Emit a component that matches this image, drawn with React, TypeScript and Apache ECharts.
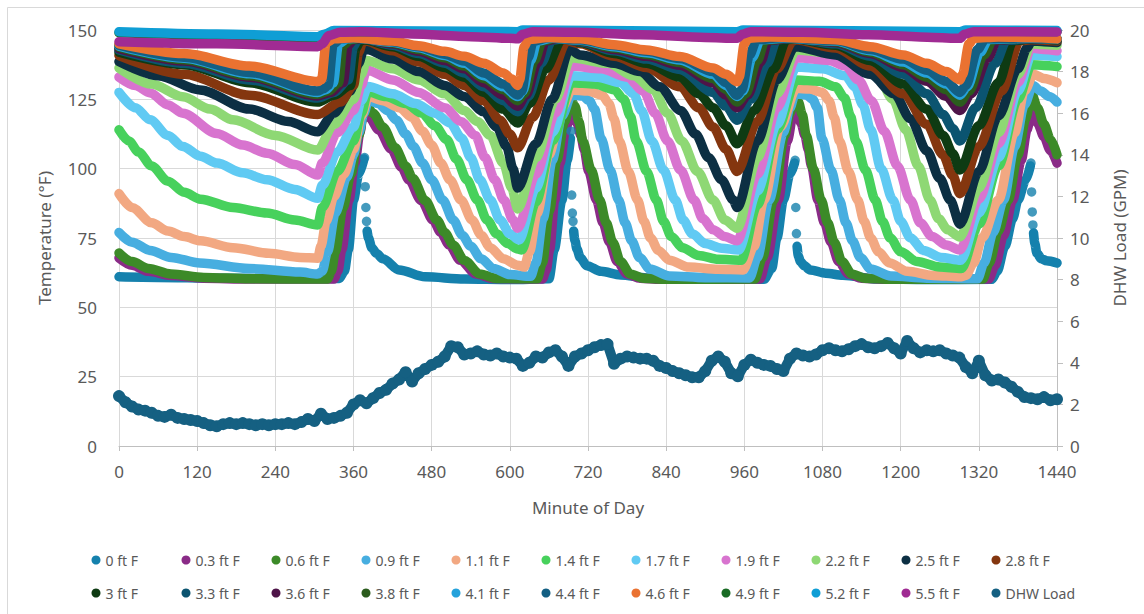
import React, { useEffect, useRef } from "react";
import * as echarts from "echarts";

// ---------- tick labels / axis ----------
const xTicks = [0, 120, 240, 360, 480, 600, 720, 840, 960, 1080, 1200, 1320, 1440];

// ---------- sensor temperatures [minute, °F] ----------
const s00 = [[0,61],[60,60.8],[150,60.5],[250,60.4],[338,60.4],[346,63],[352,70.7],[360,88.7],[368,98],[376,103.5],[378.5,null],[381,77.5],[383,75],[388,71.5],[395,69.5],[405,67.5],[430,63.5],[470,61],[530,60.2],[600,60],[660,60.3],[668,70.7],[680,88.7],[688,103],[693,111],[695.5,null],[698,77.5],[700,74],[703,71],[708,68],[718,65],[740,63],[770,61.7],[810,60.6],[880,60.1],[990,60.1],[1002,64],[1010,75],[1020,88.7],[1030,98],[1037,102],[1039.5,null],[1041,72],[1043,68.5],[1046,66.5],[1052,65],[1061,63.5],[1085,62.3],[1111,61.6],[1164,60.2],[1240,60],[1340,60.1],[1348,63],[1360,72],[1372,82],[1380,88.7],[1392,96],[1399,101],[1402,null],[1404,76.8],[1406,73],[1409,69.6],[1416,67.5],[1424,66.8],[1440,66]];
const s00Dots = [[377,104],[378,93.5],[379,86],[380,81],[694,113.5],[695,90.5],[696,84],[697,81],[1038,103],[1039,86],[1040,76.6],[1400,102],[1401,91.6],[1402,84.4],[1403,79.7]];
const s03 = [[0,67.8],[20,65.2],[45,63],[80,61.5],[130,60.5],[200,60.2],[330,60.2],[336,63],[342,70.7],[353,88.7],[362,102],[370,113],[375,120.5],[384,118.5],[399,114],[418,107],[434,100.5],[445,96],[464,88.5],[482,81.5],[494,77],[507,72.5],[524,67],[548,62],[574,60.4],[650,60.2],[656,63.5],[661,70.7],[669,88.7],[677,102],[685,113],[693,120.5],[697,119.5],[703,116.5],[709,112],[714,107],[721,99],[733,88.7],[743,80.5],[753,73.5],[765,66.5],[780,62],[800,60.5],[830,60.1],[984,60.2],[995,68],[1012,88.7],[1026,110],[1036,121],[1041,120],[1047,116.5],[1053,112],[1058,107],[1063,101],[1073,88.7],[1083,80.5],[1093,73.5],[1105,66.5],[1120,62],[1140,60.5],[1180,60.1],[1335,60.2],[1345,65],[1358,76],[1372,88.7],[1385,103],[1394,114],[1401,121],[1410,116.5],[1420,111.5],[1430,106.5],[1440,102]];
const s06 = [[0,69.6],[20,66.5],[45,64],[80,62],[130,60.8],[200,60.3],[320,60.2],[326,63],[332,70],[344,86],[356,98],[368,112],[378,123.7],[390,120],[405,115],[424,107.5],[440,101],[451,96.5],[470,88.5],[488,81.5],[500,77],[513,72.5],[530,67],[554,62],[580,60.4],[642,60.3],[650,66],[661,85],[672,103],[684,117],[694,124.8],[700,122.5],[706,117],[712,110],[725,99.5],[738,88.7],[748,80.5],[758,73.5],[770,66.5],[785,62],[805,60.5],[840,60.1],[976,60.2],[988,68],[1005,88.7],[1022,112],[1030,120],[1037,126],[1043,124],[1049,119.5],[1055,112],[1066,100],[1078,88.7],[1088,80.5],[1098,73.5],[1110,66.5],[1125,62],[1145,60.5],[1185,60.1],[1326,60.2],[1336,66],[1350,77.5],[1365,88.7],[1380,105],[1392,118],[1401,127],[1410,122],[1420,116],[1430,110.5],[1440,105]];
const s09 = [[0,77],[20,73.5],[48,70.5],[80,68],[124,66],[200,64],[278,62.7],[305,62],[312,63],[320,70],[332,84],[350,97],[360,105],[368,113],[376,120],[383,124.8],[398,123.5],[412,121],[426,117.5],[440,112.5],[452,108],[466,102],[480,96],[497,88.7],[513,81.5],[527,76],[540,72],[556,67.5],[575,64],[600,61.8],[632,61.2],[640,66],[651,82],[665,103],[680,119],[695,126.6],[712,126.2],[722,124.5],[730,121.5],[740,111],[754,99.5],[767,88.7],[777,80.5],[787,74],[799,68],[815,63.8],[845,61.3],[900,60.7],[968,60.6],[980,68],[998,88.7],[1020,113],[1030,121.9],[1038,127],[1055,126.6],[1065,125],[1072,122],[1079,111],[1093,99.5],[1106,88.7],[1116,80.5],[1126,74],[1138,68],[1154,63.8],[1185,61.3],[1240,60.5],[1318,60.3],[1328,66],[1342,77],[1358,88.7],[1375,108],[1390,123],[1403,130],[1415,128],[1428,126],[1440,124]];
const s11 = [[0,91],[20,86],[50,80.5],[75,77.5],[100,75.5],[125,74],[175,71.5],[230,69.5],[278,68],[305,67.7],[310,72],[318,81],[330,90],[345,98],[360,107],[372,119],[383,126],[405,124.5],[430,122],[450,118.5],[466,113.5],[480,108.5],[494,102],[508,96],[525,88.7],[542,81.5],[556,76],[570,71.5],[590,67.5],[612,65.2],[622,64.5],[630,70],[642,84],[660,105],[680,122],[695,128.4],[720,128],[742,126.5],[752,123.5],[760,118],[768,110],[782,99],[796,88.7],[806,81],[816,75],[828,70.5],[845,67],[875,64.5],[920,63.7],[958,63.5],[975,72],[990,88.7],[1015,115],[1040,129],[1060,128.7],[1080,127.5],[1090,124.5],[1098,118.5],[1106,110],[1120,99],[1134,88.7],[1144,81],[1154,75],[1166,70],[1183,66],[1210,63],[1250,61.5],[1291,61],[1300,61.5],[1312,66],[1325,75],[1350,88.7],[1375,113],[1390,128],[1404,134],[1420,132.5],[1440,131]];
const s14 = [[0,114],[15,110],[30,106],[50,101],[75,95.5],[100,91.5],[125,89],[175,86],[227,84],[270,81.5],[305,79.7],[312,86],[335,99],[360,110],[372,120],[382,127.7],[410,126],[440,123.5],[465,120],[485,115.5],[503,110.5],[518,103.5],[534,96],[550,88.7],[565,81.5],[580,76.5],[597,73],[612,71],[618,70.7],[640,88],[665,110],[695,131],[730,130.5],[760,128.5],[775,125],[785,119],[794,110],[810,99],[825,88.7],[836,81],[848,75.5],[865,71.5],[890,68.7],[920,67.3],[955,67],[980,87],[1010,114],[1040,132],[1075,131.5],[1100,129.5],[1114,125.5],[1123,119],[1131,110],[1146,99.5],[1161,88.7],[1172,81],[1184,75],[1200,70],[1225,66.5],[1260,64.5],[1293,64],[1320,80],[1350,101],[1380,125],[1401,137.5],[1420,137.2],[1440,136.8]];
const s17 = [[0,127.5],[25,122],[48,117.6],[75,112],[98,108],[125,104.5],[150,102],[190,98.5],[227,96],[270,92.5],[305,89.3],[312,94],[335,106],[360,115],[372,124.5],[382,129.6],[420,127],[455,123.5],[485,120],[508,116.5],[526,111],[540,104],[554,96],[570,88.7],[585,81.5],[600,76.5],[614,74.3],[640,93],[665,113],[695,133.5],[735,133],[770,131],[790,127],[802,121],[818,110],[836,99.5],[854,88.7],[866,81.5],[880,76.5],[900,73],[925,71.3],[951,70.7],[980,92],[1010,116],[1040,136.7],[1080,136],[1115,133.5],[1130,129.5],[1142,123],[1154,114],[1170,100],[1188,88.7],[1200,81],[1215,75],[1235,70.5],[1262,68],[1292,67],[1320,84],[1350,104],[1380,128],[1401,141],[1420,140.7],[1440,140.4]];
const s19 = [[0,133],[25,130],[48,127.3],[75,123],[98,120],[150,112.7],[190,108.5],[227,105.6],[270,101.5],[305,97.7],[312,102],[335,113],[360,121],[372,130],[380,135.6],[420,132],[460,127.5],[500,122],[525,117],[547,112],[562,104],[577,96],[591,88.7],[605,81.5],[612,78.5],[640,98],[670,120],[695,137],[740,136],[780,133],[805,128],[823,120],[842,110],[862,99.5],[883,88.7],[896,82],[912,78],[930,75.5],[949,74],[980,98],[1010,122],[1040,140],[1090,139],[1115,137],[1135,132],[1155,124.5],[1175,113.5],[1195,101],[1215,88.7],[1230,80.5],[1248,75.5],[1270,72.5],[1291,70.7],[1320,89],[1350,109],[1380,131],[1401,143.5],[1420,143],[1440,142.5]];
const s22 = [[0,136.3],[50,130.5],[98,125.9],[140,121.5],[175,117.6],[240,112],[305,106.7],[330,116],[360,125],[372,134],[380,139],[420,136],[460,132],[500,127],[530,121],[550,117],[570,112],[590,102],[603,93],[612,85.5],[640,104],[670,125],[694,140],[750,138],[790,133.5],[820,128.5],[842,120],[864,110],[888,99],[912,88.7],[930,81.5],[949,78.5],[980,104],[1010,127],[1040,142.8],[1100,141.5],[1140,138.5],[1165,133.5],[1188,125],[1208,114],[1227,101],[1245,88.7],[1258,82],[1272,78],[1291,75.4],[1320,93],[1350,113],[1380,134],[1401,145],[1420,144.8],[1440,144.5]];
const s25 = [[0,138.6],[60,133.5],[124,128.4],[200,121.5],[260,117],[305,113.3],[330,120],[355,128],[368,138],[375,142.5],[380,143],[420,139.5],[460,135],[500,130],[530,126],[560,120.5],[580,115],[595,108],[605,100],[612,93],[640,109],[665,125],[692,143],[708,141],[760,138],[800,135],[830,129.5],[862,121],[885,112.5],[905,104],[925,96],[943,88.7],[949,86],[980,110],[1010,132],[1038,144],[1100,141],[1153,134],[1190,127],[1215,118],[1240,106.5],[1260,96.5],[1276,88.7],[1291,80],[1320,99],[1350,119],[1380,136],[1394,143.5],[1401,146],[1420,145.8],[1440,145.5]];
const s28 = [[0,140.8],[100,134],[200,126.5],[305,119.5],[340,124],[360,130],[368,142],[374,145.5],[378,146],[420,142.5],[460,138.5],[500,134],[530,130],[560,124.5],[585,117.5],[600,112.5],[612,107.5],[635,118.5],[660,132],[688,146],[708,145],[760,140.5],[810,136.5],[861,129.5],[890,122],[912,115],[932,107],[949,99],[980,117],[1010,136],[1035,146],[1038,146.5],[1100,143.5],[1153,137],[1204,127],[1240,116],[1265,105],[1280,97.5],[1291,91],[1320,108],[1355,128],[1383,146],[1400,146.5],[1440,146]];
const s30 = [[0,142],[100,137.5],[200,131],[305,124],[330,126.5],[355,130],[364,143.5],[370,146],[376,146.5],[420,144],[460,140.5],[500,136.5],[530,133],[560,127.5],[590,121.5],[612,116.5],[630,123.5],[655,136],[680,146.5],[690,147],[708,145.5],[760,141.5],[810,138],[861,133],[890,127],[912,122],[932,115.5],[949,109],[975,121],[1005,136],[1025,146.5],[1036,146.8],[1100,144.5],[1153,139],[1204,130.5],[1240,121.5],[1265,112],[1280,105.5],[1291,99.5],[1320,115.5],[1350,131],[1373,146.2],[1400,146.8],[1440,146.4]];
const s33 = [[0,142.8],[100,138],[200,132],[305,125.5],[330,127.5],[352,132],[360,144],[366,146.3],[374,146.8],[420,144.5],[460,141.5],[500,138],[530,134.5],[560,129.5],[590,124.5],[612,120.5],[628,126],[648,138],[665,146.3],[680,146.8],[708,145.8],[760,142.5],[810,139.5],[861,135.8],[912,127.5],[932,122.5],[949,117.5],[970,125],[995,138],[1010,146.5],[1034,147],[1100,145],[1153,140.5],[1204,134],[1240,127],[1265,119.5],[1280,114.5],[1291,110],[1315,122],[1345,138],[1363,146.3],[1400,146.8],[1440,146.5]];
const s36 = [[0,143.3],[100,138.8],[200,133],[305,126.2],[325,127.5],[344,131],[352,144.5],[360,146.5],[372,147],[420,145],[460,142.3],[500,139],[530,136],[560,131],[590,126.5],[612,122.5],[625,126.5],[642,138],[655,146],[675,147],[708,146],[760,143],[810,140.5],[861,137.3],[912,131],[932,126.5],[949,122],[965,126.5],[985,138.5],[997,146.2],[1030,147],[1100,145.5],[1153,141.5],[1204,136.5],[1240,131.5],[1270,126],[1291,121],[1308,127],[1334,140],[1348,146.4],[1400,147],[1440,146.7]];
const s38 = [[0,143.8],[100,139.3],[200,133.5],[305,126.8],[322,128],[337,131],[344,144.5],[355,146.5],[370,147],[420,145.3],[460,143],[500,140],[530,137],[560,132.5],[590,128.5],[612,124.5],[622,127],[638,139],[650,146],[670,147],[708,146.1],[760,143.5],[810,141.2],[861,138.3],[912,132.5],[932,128.5],[949,124],[962,127],[980,139],[992,146.3],[1025,147],[1100,145.8],[1153,142],[1204,137.5],[1240,133],[1270,128.5],[1291,124],[1305,128],[1328,141],[1342,146.5],[1400,147],[1440,146.7]];
const s41 = [[0,144.2],[100,139.8],[200,134.2],[305,127.5],[318,128.5],[329,131],[337,145],[350,146.8],[368,147],[420,145.6],[460,143.6],[500,140.8],[530,138],[560,133.5],[590,129.5],[612,126],[620,128],[632,139],[642,146],[665,147],[708,146.3],[760,144],[810,141.8],[861,139.2],[912,134],[932,130],[949,126],[958,128],[972,140],[985,146.5],[1020,147],[1100,146],[1153,142.5],[1204,138.5],[1240,134.5],[1270,130.5],[1291,126.5],[1302,129.5],[1322,142],[1335,146.6],[1400,147],[1440,146.8]];
const s44 = [[0,144.5],[100,140.2],[200,134.7],[305,128],[313,128.7],[321,130],[329,145],[340,146.8],[366,147.2],[420,145.8],[460,144],[500,141.3],[530,138.8],[560,134.5],[590,130.5],[612,126.6],[618,128],[628,140],[636,146],[660,147.2],[708,146.5],[760,144.4],[810,142.3],[861,139.7],[912,135],[932,131],[949,126.5],[956,128.5],[968,141],[979,146.5],[1015,147.2],[1100,146.2],[1153,143],[1204,139.5],[1240,135.5],[1270,131.5],[1291,127.5],[1300,130],[1318,143],[1330,146.8],[1400,147.2],[1440,146.9]];
const s46 = [[0,145],[100,141.5],[200,137],[305,131.4],[311,132.2],[318,145.5],[330,146.8],[360,147.2],[420,146],[460,144.3],[500,142.3],[530,140.5],[560,138],[590,134.5],[603,132.3],[612,130],[615,132],[622,144],[628,146.5],[660,147.3],[708,146.8],[760,144.7],[810,142.8],[861,140.4],[912,136.3],[932,134],[949,131.3],[952,133],[960,145],[966,147],[1000,147.5],[1100,146.5],[1153,144],[1204,141],[1240,138],[1270,135],[1291,132],[1295,134],[1305,145],[1312,147],[1350,147.5],[1400,147.3],[1440,146.8]];
const s49 = [[0,149],[150,148.2],[305,147.2],[318,148.5],[335,149.5],[612,149],[620,149.6],[949,149],[958,149.6],[1291,149],[1300,149.6],[1440,149.5]];
const s52 = [[0,149.4],[150,148.6],[305,147.6],[315,148.5],[330,149.8],[612,149.4],[620,150],[949,149.4],[958,150],[1291,149.4],[1300,150],[1440,149.8]];
const s55 = [[0,145.8],[150,145],[305,144],[312,145],[322,148],[340,149.2],[370,149.4],[450,148.6],[540,147.6],[600,147],[612,146.8],[620,148.5],[635,149.4],[700,149.2],[800,148.3],[900,147.3],[949,147],[957,148.5],[970,149.4],[1050,149.2],[1150,148.3],[1250,147.3],[1291,147],[1298,148.5],[1312,149.4],[1440,149.3]];

// ---------- DHW load, GPM every 10 minutes from minute 0 ----------
const dhwLoad = [2.4,2.1,1.9,1.75,1.7,1.6,1.45,1.4,1.5,1.35,1.3,1.25,1.2,1.1,1.0,0.95,1.05,1.1,1.05,1.1,1.05,1.0,1.05,1.0,1.05,1.05,1.1,1.05,1.15,1.3,1.2,1.55,1.3,1.35,1.45,1.6,2.0,2.2,2.05,2.3,2.55,2.7,3.0,3.2,3.55,3.1,3.5,3.7,3.9,4.05,4.3,4.8,4.75,4.4,4.45,4.55,4.4,4.35,4.45,4.3,4.25,4.2,3.85,4.0,4.3,4.25,4.5,4.6,4.3,3.85,4.3,4.45,4.6,4.75,4.85,4.9,3.95,4.2,4.3,4.25,4.2,4.2,4.1,3.85,3.75,3.6,3.5,3.4,3.3,3.3,3.6,4.1,4.3,4.05,3.5,3.35,3.9,4.15,4.0,3.9,3.85,3.7,3.6,4.2,4.45,4.35,4.3,4.4,4.6,4.7,4.6,4.55,4.65,4.8,4.9,4.75,4.7,4.8,4.95,4.7,4.45,5.05,4.7,4.5,4.6,4.55,4.6,4.45,4.35,4.25,3.8,3.5,4.1,3.4,3.15,3.2,3.05,2.85,2.6,2.35,2.3,2.25,2.35,2.2,2.25];
const dhwMinutes = dhwLoad.map((_, i) => i * 10);

const sensorNames = ["0 ft F","0.3 ft F","0.6 ft F","0.9 ft F","1.1 ft F","1.4 ft F","1.7 ft F","1.9 ft F","2.2 ft F","2.5 ft F","2.8 ft F","3 ft F","3.3 ft F","3.6 ft F","3.8 ft F","4.1 ft F","4.4 ft F","4.6 ft F","4.9 ft F","5.2 ft F","5.5 ft F"];
const sensorColors = ["#1581AD","#8A2B87","#3C8A28","#47AEE0","#F2A882","#47D15C","#60CAF3","#D874CF","#8ED874","#0C2F43","#84360F","#0E3B13","#0B5470","#4E1448","#2B5C1D","#25A2DB","#135F83","#EA7231","#196B24","#0F9ED5","#A02B93"];
const sensorData = [s00,s03,s06,s09,s11,s14,s17,s19,s22,s25,s28,s30,s33,s36,s38,s41,s44,s46,s49,s52,s55];
const dhwName = "DHW Load";
const dhwColor = "#156082";

const FONT = "'Noto Sans', 'Open Sans', Arial, sans-serif";
const TXT = "#595959";

export default function App() {
  const ref = useRef<HTMLDivElement>(null);
  useEffect(() => {
    if (!ref.current) return;
    const chart = echarts.init(ref.current, null, { renderer: "svg" });
    const series: any[] = [];
    sensorNames.forEach((name, i) => {
      series.push({
        type: "line",
        name,
        data: sensorData[i],
        yAxisIndex: 0,
        showSymbol: false,
        smooth: 0.3,
        smoothMonotone: "x",
        clip: false,
        connectNulls: false,
        lineStyle: { width: 9.5, color: sensorColors[i], cap: "round", join: "round" },
        itemStyle: { color: sensorColors[i] },
        emphasis: { disabled: true },
        z: 2,
      });
      if (i === 0) {
        series.push({
          type: "scatter",
          name,
          data: s00Dots,
          yAxisIndex: 0,
          symbolSize: 9.5,
          itemStyle: { color: sensorColors[0] },
          emphasis: { disabled: true },
          z: 2,
        });
      }
    });
    series.push({
      type: "line",
      name: dhwName,
      data: dhwMinutes.map((m, i) => [m, dhwLoad[i]]),
      yAxisIndex: 1,
      showSymbol: true,
      symbol: "circle",
      symbolSize: 12,
      lineStyle: { width: 10, color: dhwColor, join: "round", cap: "round" },
      itemStyle: { color: dhwColor },
      emphasis: { disabled: true },
      z: 3,
    });

    const legendCommon = {
      orient: "horizontal",
      left: 91.5,
      padding: 0,
      itemWidth: 9,
      itemHeight: 9,
      itemGap: 6,
      icon: "circle",
      selectedMode: false,
      textStyle: { fontSize: 14, color: TXT, fontFamily: FONT, width: 70, lineHeight: 14 },
    };

    chart.setOption({
      animation: false,
      backgroundColor: "#ffffff",
      textStyle: { fontFamily: FONT },
      graphic: [
        {
          type: "rect",
          shape: { x: 7.5, y: 7.5, width: 1150, height: 620 },
          style: { fill: "none", stroke: "#D9D9D9", lineWidth: 1 },
          silent: true,
          z: -10,
        },
      ],
      grid: { left: 119, right: 87, top: 30, bottom: 168, containLabel: false },
      legend: [
        { ...legendCommon, top: 553, data: sensorNames.slice(0, 11) },
        { ...legendCommon, top: 586, data: [...sensorNames.slice(11), dhwName] },
      ],
      xAxis: {
        type: "value",
        min: xTicks[0],
        max: xTicks[xTicks.length - 1],
        interval: 120,
        name: "Minute of Day",
        nameLocation: "middle",
        nameGap: 53,
        nameTextStyle: { fontSize: 17, color: TXT, fontFamily: FONT },
        axisLine: { show: true, lineStyle: { color: "#BFBFBF", width: 1 } },
        axisTick: { show: true, length: 5, lineStyle: { color: "#BFBFBF" } },
        axisLabel: { fontSize: 17, color: TXT, margin: 17, fontFamily: FONT, formatter: (v: number) => String(v) },
        splitLine: { show: true, lineStyle: { color: "#D9D9D9", width: 1 } },
      },
      yAxis: [
        {
          type: "value",
          min: 0,
          max: 150,
          interval: 25,
          position: "left",
          name: "Temperature (°F)",
          nameLocation: "middle",
          nameRotate: 90,
          nameGap: 66,
          nameTextStyle: { fontSize: 17, color: TXT, fontFamily: FONT },
          axisLine: { show: false },
          axisTick: { show: false },
          axisLabel: { fontSize: 17, color: TXT, margin: 22, fontFamily: FONT, formatter: (v: number) => String(v) },
          splitLine: { show: true, lineStyle: { color: "#D9D9D9", width: 1 } },
        },
        {
          type: "value",
          min: 0,
          max: 20,
          interval: 2,
          position: "right",
          name: "DHW Load (GPM)",
          nameLocation: "middle",
          nameRotate: 90,
          nameGap: 54,
          nameTextStyle: { fontSize: 17, color: TXT, fontFamily: FONT },
          axisLine: { show: true, lineStyle: { color: "#BFBFBF", width: 1 } },
          axisTick: { show: true, length: 6, lineStyle: { color: "#BFBFBF" } },
          axisLabel: { fontSize: 17, color: TXT, margin: 13, fontFamily: FONT, formatter: (v: number) => String(v) },
          splitLine: { show: false },
        },
      ],
      series,
    });
    return () => chart.dispose();
  }, []);
  return (
    <div
      ref={ref}
      style={{ position: "absolute", left: 0, top: 0, width: 1144, height: 614 }}
    />
  );
}
